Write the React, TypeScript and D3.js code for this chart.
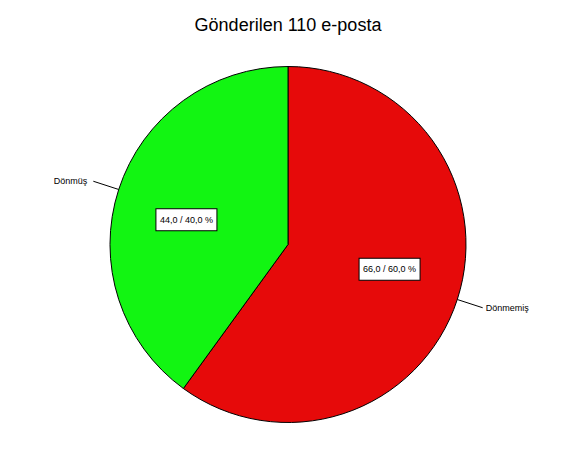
import React from "react";
import { pie, arc } from "d3";

const categories = ["Dönmemiş", "Dönmüş"];
const counts = [66, 44];
const shares = [60, 40];
const colors = ["#e60a0a", "#12f512"];
const title = "Gönderilen 110 e-posta";

const W = 576;
const H = 461;
const cx = 288;
const cy = 244.5;
const R = 178;

const fmt = (v: number) => v.toFixed(1).replace(".", ",");

export default function App() {
  const slices = pie<number>().sort(null)(counts);
  const slicePath = arc<any>().innerRadius(0).outerRadius(R);

  return (
    <svg
      width={W}
      height={H}
      style={{ position: "absolute", left: 0, top: 0, background: "#fff" }}
      fontFamily="'Liberation Sans', Arial, sans-serif"
    >
      <text x={cx} y={31} textAnchor="middle" fontSize={18}>
        {title}
      </text>
      <g transform={`translate(${cx},${cy})`}>
        {slices.map((s, i) => (
          <path
            key={i}
            d={slicePath(s) ?? undefined}
            fill={colors[i]}
            stroke="#000"
            strokeWidth={1}
          />
        ))}
        {slices.map((s, i) => {
          const mid = (s.startAngle + s.endAngle) / 2;
          const sx = Math.sin(mid);
          const sy = -Math.cos(mid);
          const x1 = sx * R;
          const y1 = sy * R;
          const x2 = sx * R * 1.15;
          const y2 = sy * R * 1.15;
          const right = sx > 0;
          return (
            <g key={i}>
              <line x1={x1} y1={y1} x2={x2} y2={y2} stroke="#000" strokeWidth={1} />
              <text
                x={x2 + (right ? 3 : -6)}
                y={y2 + 3}
                textAnchor={right ? "start" : "end"}
                fontSize={9}
              >
                {categories[i]}
              </text>
            </g>
          );
        })}
        {slices.map((s, i) => {
          // label boxes sit on an ellipse around the centre at the slice's mid angle
          const mid = (s.startAngle + s.endAngle) / 2;
          const lx = Math.sin(mid) * R * 0.6;
          const ly = -Math.cos(mid) * R * 0.45;
          const bw = 61;
          const bh = 22;
          return (
            <g key={i}>
              <rect
                x={lx - bw / 2}
                y={ly - bh / 2}
                width={bw}
                height={bh}
                fill="#fff"
                stroke="#000"
                strokeWidth={1}
              />
              <text x={lx} y={ly + 3} textAnchor="middle" fontSize={9}>
                {`${fmt(counts[i])} / ${fmt(shares[i])} %`}
              </text>
            </g>
          );
        })}
      </g>
    </svg>
  );
}
